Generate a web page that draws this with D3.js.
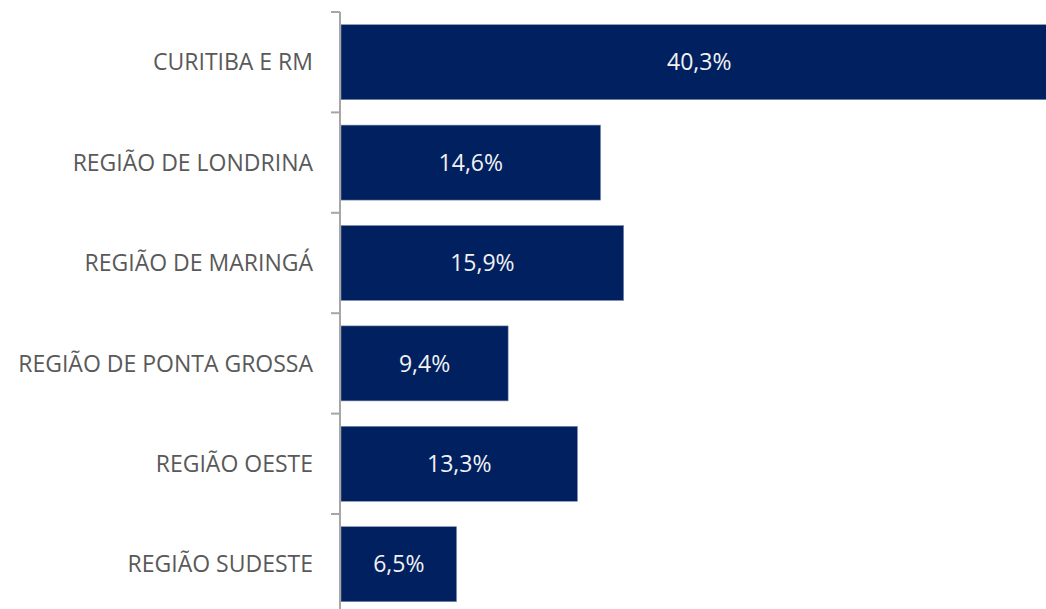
<!DOCTYPE html>
<html><head><meta charset="utf-8">
<script src="https://cdn.jsdelivr.net/npm/d3@7"></script>
<style>html,body{margin:0;padding:0;background:#fff;}svg{display:block;}</style>
</head><body>
<svg id="chart" width="1046" height="609"></svg>
<script>
const categories = ["CURITIBA E RM","REGIÃO DE LONDRINA","REGIÃO DE MARINGÁ","REGIÃO DE PONTA GROSSA","REGIÃO OESTE","REGIÃO SUDESTE"];
const values = [40.3,14.6,15.9,9.4,13.3,6.5];
const valueLabels = ["40,3%","14,6%","15,9%","9,4%","13,3%","6,5%"];

const svg = d3.select("#chart");
const x0 = 341;
const x = d3.scaleLinear().domain([0, 40.3]).range([x0, x0 + 40.3*17.78]);
const y = d3.scaleBand().domain(categories).range([12, 614.4]).paddingInner(0.253).paddingOuter(0.1265);
const step = y.step();
const font = "'Open Sans', sans-serif";

svg.selectAll("rect.bar").data(categories).enter().append("rect")
  .attr("x", x(0)).attr("y", d => y(d))
  .attr("width", (d,i) => x(values[i]) - x(0)).attr("height", y.bandwidth())
  .attr("fill", "#002060").attr("stroke", "#7f8fb0").attr("stroke-width", 0.6);

svg.selectAll("text.val").data(categories).enter().append("text")
  .attr("x", (d,i) => (x(0) + x(values[i]))/2)
  .attr("y", d => y(d) + y.bandwidth()/2)
  .attr("dy", "0.36em").attr("text-anchor", "middle")
  .attr("fill", "#f2f2f2").attr("font-family", font).attr("font-size", 23)
  .text((d,i) => valueLabels[i]);

// axis
const g = svg.append("g");
g.append("line").attr("x1", 340).attr("x2", 340).attr("y1", 12).attr("y2", 609)
  .attr("stroke", "#a6a6a6").attr("stroke-width", 2);
g.selectAll("line.tick").data(categories).enter().append("line")
  .attr("x1", 331).attr("x2", 340)
  .attr("y1", d => y(d) - step*0.253/2).attr("y2", d => y(d) - step*0.253/2)
  .attr("stroke", "#a6a6a6").attr("stroke-width", 2);
g.selectAll("text.cat").data(categories).enter().append("text")
  .attr("x", 313).attr("y", d => y(d) + y.bandwidth()/2)
  .attr("dy", "0.36em").attr("text-anchor", "end")
  .attr("fill", "#595959").attr("font-family", font).attr("font-size", 23)
  .text(d => d);
</script>
</body></html>
